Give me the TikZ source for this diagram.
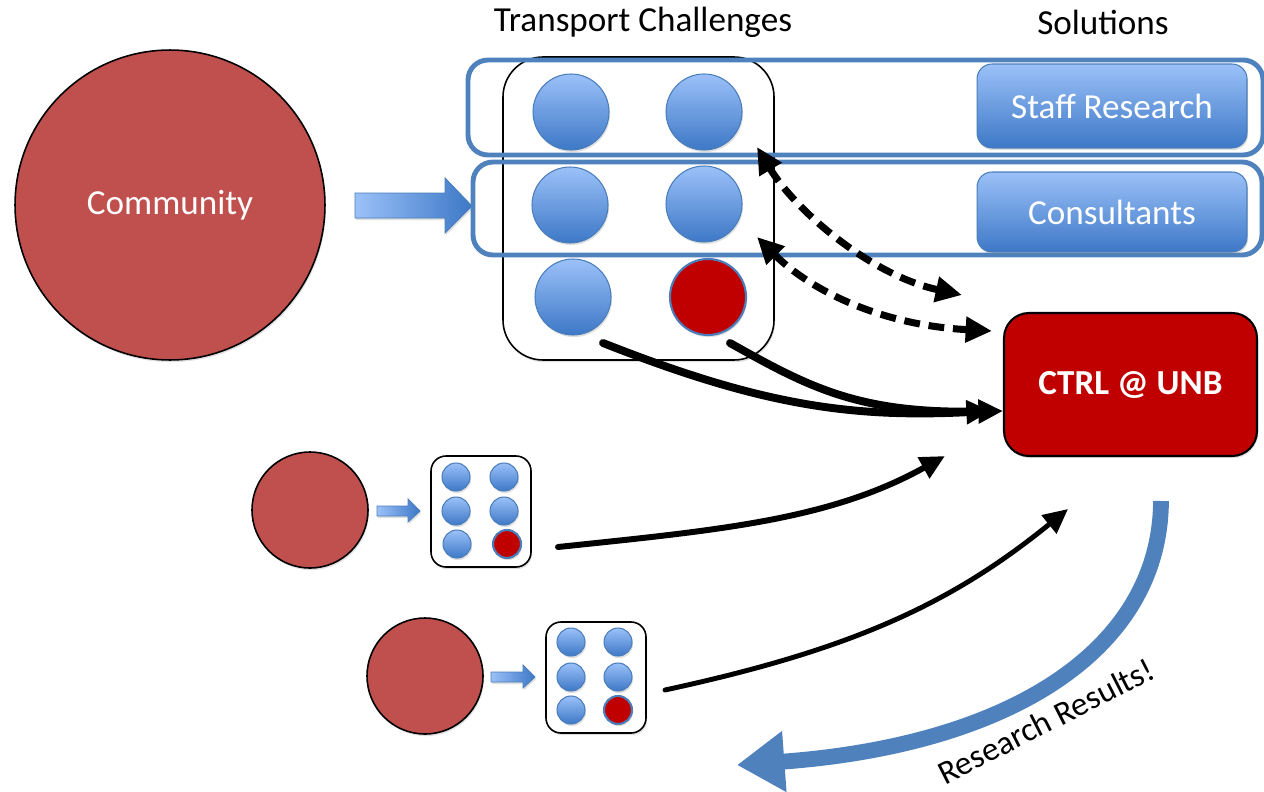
\documentclass[tikz,border=0pt]{standalone}
\usepackage{fontspec}
\setmainfont{Carlito}
\usetikzlibrary{arrows.meta,shadows}

\definecolor{commred}{HTML}{C0504D}
\definecolor{ctrlred}{HTML}{C00000}
\definecolor{rowblue}{HTML}{4F81BD}
\definecolor{lightblue}{HTML}{9BC1F8}
\definecolor{darkblue}{HTML}{3D78C7}
\definecolor{edgeblue}{HTML}{4A7EBB}

\begin{document}
\begin{tikzpicture}[x=0.02cm,y=-0.02cm,font=\fontsize{20}{24}\selectfont,
    soft/.style={drop shadow={opacity=0.25,shadow xshift=0.6pt,shadow yshift=-1.2pt}},
    bluedot/.style={draw=edgeblue,line width=0.6pt,top color=lightblue,bottom color=darkblue,soft},
    reddot/.style={draw=edgeblue,line width=1.2pt,fill=ctrlred,soft},
    chbox/.style={draw=black,line width=0.9pt,fill=white,soft},
    rowline/.style={draw=rowblue,line width=2.8pt,rounded corners=0.4cm},
    bluearrow/.style={draw=edgeblue,line width=0.5pt,left color=lightblue,right color=darkblue,soft},
    solbox/.style={draw=edgeblue,line width=0.6pt,top color=lightblue,bottom color=darkblue,
        rounded corners=0.3cm,minimum width=5.4cm,text=white,soft},
    flow/.style={line width=#1,line cap=round,-{Triangle[length=14pt,width=13pt]}},
    dashflow/.style={draw=black,line width=4pt,dash pattern=on 9pt off 5pt,
        {Triangle[length=15pt,width=14pt]}-{Triangle[length=15pt,width=14pt]}}]
        \useasboundingbox (0,0) rectangle (1264,791);
        % titles
        \node (ttl) at (643,22) {Transport Challenges};
        \node (sol) at (1103,22) {Solutions};
        % community
        \node [circle,draw=black,line width=0.9pt,fill=commred,text=white,minimum size=6.2cm,soft] (comm) at (170,205) {Community};
        \draw [bluearrow] (355,193) -- (445,193) -- (445,178) -- (472,206) -- (445,233) -- (445,218) -- (355,218) -- cycle;
        % big challenge box
        \draw [chbox,rounded corners=0.8cm] (503,57) rectangle (774,360);
        \draw [bluedot] (571,112) circle (38);
        \draw [bluedot] (704,112) circle (38);
        \draw [bluedot] (570,205) circle (38);
        \draw [bluedot] (704,204) circle (38);
        \draw [bluedot] (573,297) circle (38);
        \draw [reddot] (708,297) circle (38);
        \draw [rowline] (468,60) rectangle (1263,155);
        \draw [rowline] (473,162) rectangle (1262,255);
        % solutions
        \node [solbox,minimum height=1.68cm] (staff) at (1112,106) {Staff Research};
        \node [solbox,minimum height=1.6cm] (consult) at (1112,212) {Consultants};
        \node [draw=black,line width=1.2pt,fill=ctrlred,rounded corners=0.5cm,minimum width=5.06cm,minimum height=2.86cm,
            text=white,font=\fontsize{20}{24}\selectfont\bfseries,soft] (ctrl) at (1130.5,384.5) {CTRL @ UNB};
        % small groups
        \node [circle,draw=black,line width=0.9pt,fill=commred,minimum size=2.32cm,soft] (comm1) at (310,510) {};
        \draw [bluearrow] (377,506) -- (408,506) -- (408,499) -- (420,511) -- (408,522) -- (408,516) -- (377,516) -- cycle;
        \draw [chbox,rounded corners=0.3cm] (431,456) rectangle (531,567);
        \draw [bluedot] (456,477) circle (14);
        \draw [bluedot] (504,477) circle (14);
        \draw [bluedot] (456,511) circle (14);
        \draw [bluedot] (504,511) circle (14);
        \draw [bluedot] (457,544) circle (14);
        \draw [reddot] (507,544) circle (14);
        \node [circle,draw=black,line width=0.9pt,fill=commred,minimum size=2.32cm,soft] (comm2) at (425,676) {};
        \draw [bluearrow] (491,672) -- (523,672) -- (523,665) -- (535,677) -- (523,688) -- (523,682) -- (491,682) -- cycle;
        \draw [chbox,rounded corners=0.3cm] (546,622) rectangle (646,733);
        \draw [bluedot] (571,642) circle (14);
        \draw [bluedot] (618,642) circle (14);
        \draw [bluedot] (571,677) circle (14);
        \draw [bluedot] (618,677) circle (14);
        \draw [bluedot] (571,710) circle (14);
        \draw [reddot] (618,710) circle (14);
        % connectors
        \coordinate (c2) at (757,147);
        \coordinate (c4) at (757,237);
        \coordinate (d1) at (962,295);
        \coordinate (d2) at (992,331);
        \draw [dashflow] (c2) .. controls (795,210) and (870,275) .. (d1);
        \draw [dashflow] (c4) .. controls (810,290) and (880,325) .. (d2);
        \coordinate (s1) at (603,343);
        \coordinate (s2) at (730,343);
        \coordinate (g1) at (558,547);
        \coordinate (g2) at (665,690);
        \draw [flow=4.5pt] (s1) .. controls (760,405) and (850,418) .. ([xshift=-0.24cm]ctrl.west |- 0,411);
        \draw [flow=4.5pt] (s2) .. controls (810,388) and (860,414) .. (ctrl.west |- 0,411);
        \coordinate (t1) at (945,456);
        \coordinate (t2) at (1068,509);
        \draw [flow=3.4pt] (g1) .. controls (720,530) and (830,520) .. (t1);
        \draw [flow=2.8pt] (g2) .. controls (850,650) and (950,605) .. (t2);
        % research results
        \coordinate (r0) at (1161,501);
        \coordinate (r1) at (737,765);
        \draw [draw=rowblue,line width=9pt,-{Triangle[length=27pt,width=33pt]}] (r0) .. controls (1160,650) and (1010,745) .. (r1);
        \node [rotate=27,font=\fontsize{19}{23}\selectfont] (res) at (1046,721) {Research Results!};
        \end{tikzpicture}
\end{document}
